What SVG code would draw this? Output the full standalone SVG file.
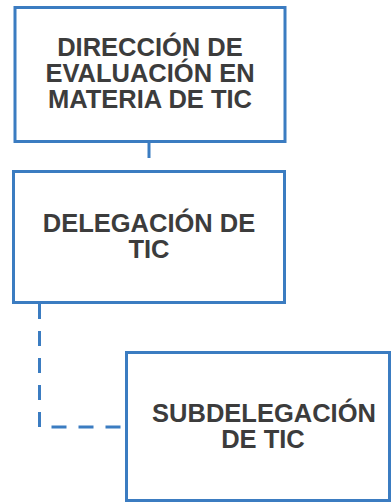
<svg xmlns="http://www.w3.org/2000/svg" width="392" height="503" viewBox="0 0 392 503">
<style>
.box{fill:#ffffff;stroke:#3b7cc1;stroke-width:3}
.lbl{font-family:"Liberation Sans",Arial,sans-serif;font-weight:bold;font-size:25.5px;fill:#3c3c3c;text-anchor:middle}
.con{fill:none;stroke:#3b7cc1;stroke-width:3;stroke-dasharray:15 12}
</style>
<rect width="392" height="503" fill="#ffffff"/>
<g id="connectors">
<path class="con" d="M149,143 V170"/>
<path class="con" d="M39.5,304 V427 H126"/>
</g>
<g id="node-direccion">
<rect class="box" x="15" y="7.5" width="270" height="134"/>
<text class="lbl" x="150" y="56">DIRECCIÓN DE</text>
<text class="lbl" x="150" y="82">EVALUACIÓN EN</text>
<text class="lbl" x="150" y="108">MATERIA DE TIC</text>
</g>
<g id="node-delegacion">
<rect class="box" x="13.5" y="171.5" width="271" height="131"/>
<text class="lbl" x="149" y="232">DELEGACIÓN DE</text>
<text class="lbl" x="149" y="258">TIC</text>
</g>
<g id="node-subdelegacion">
<rect class="box" x="126.5" y="352.5" width="263" height="148"/>
<text class="lbl" x="264" y="422">SUBDELEGACIÓN</text>
<text class="lbl" x="263" y="448">DE TIC</text>
</g>
</svg>
